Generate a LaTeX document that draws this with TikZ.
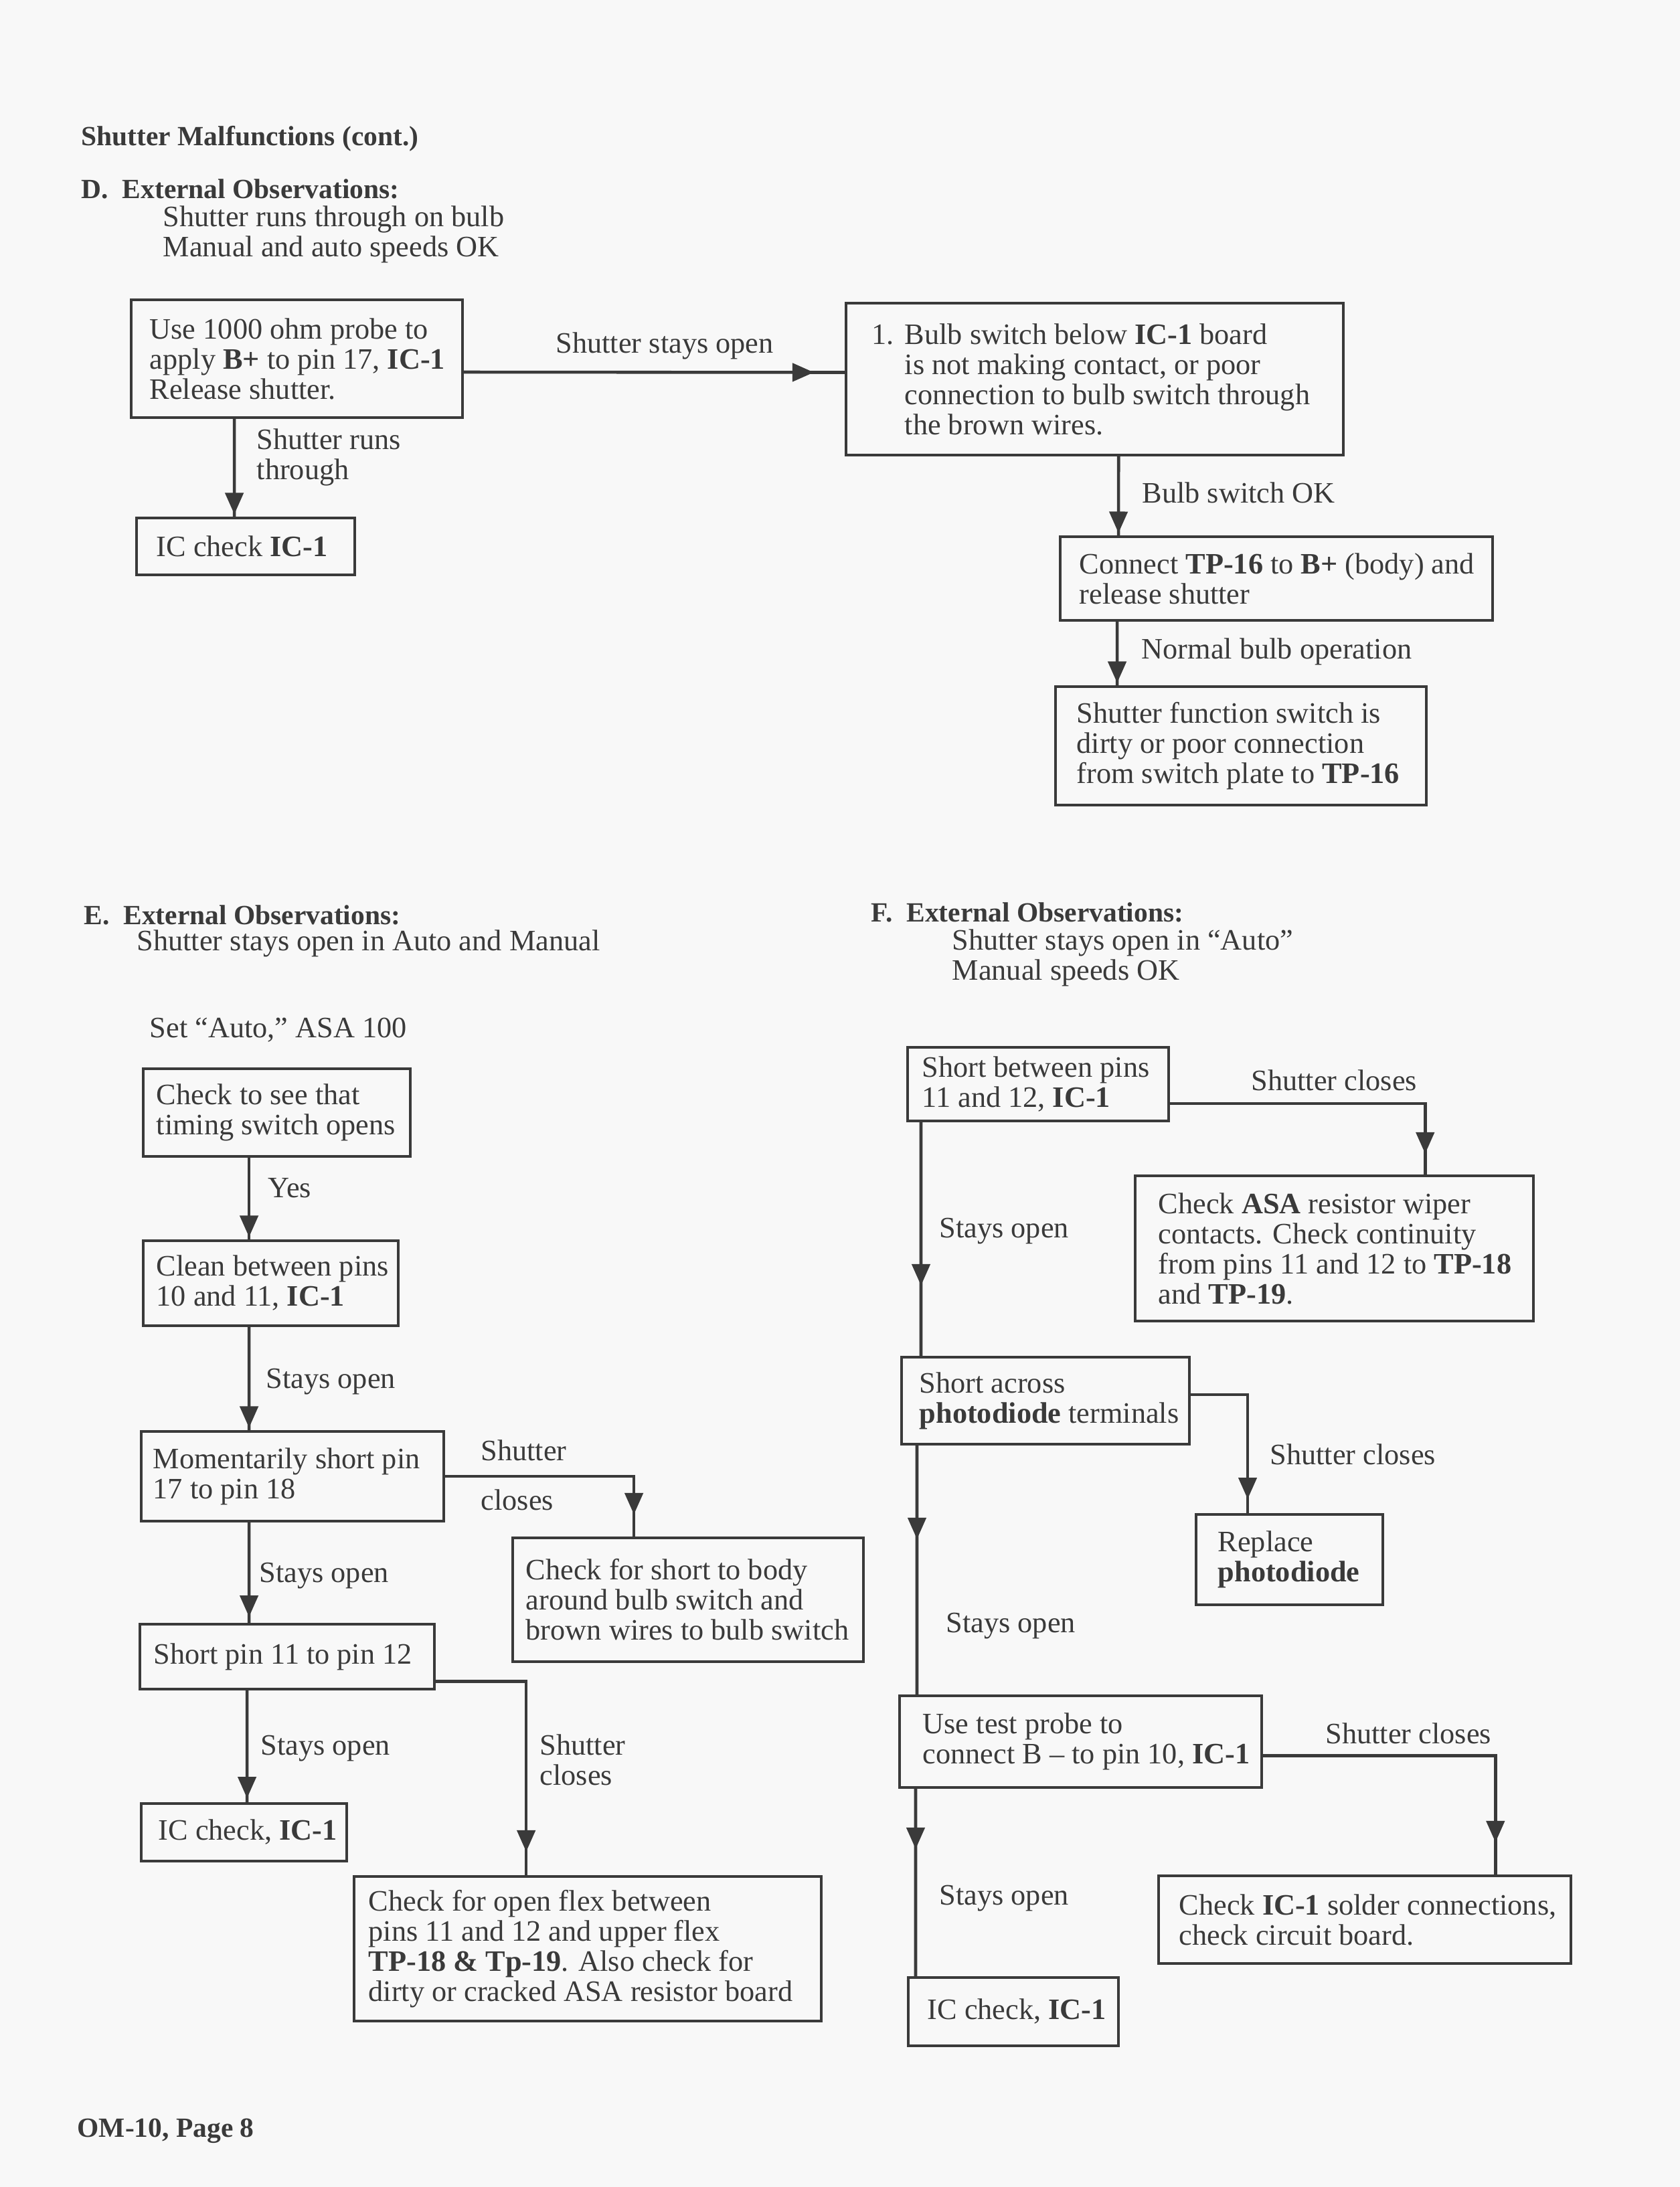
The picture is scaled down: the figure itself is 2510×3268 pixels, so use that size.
\documentclass[tikz,border=0pt]{standalone}
\usepackage{fontspec}
\setmainfont{Liberation Serif}
\usetikzlibrary{arrows.meta,decorations.markings}
\definecolor{ink}{RGB}{58,58,58}
\definecolor{paper}{RGB}{248,248,248}
\tikzset{
  box/.style={draw=ink,line width=1.1pt,anchor=north west,inner sep=0pt},
  boxtext/.style={anchor=west,align=left,inner sep=0pt,xshift=#1},
  lbl/.style={anchor=west,align=left,inner sep=0pt},
  head/.style={lbl,font=\fontsize{11.8}{14}\selectfont\bfseries},
  flow/.style={ink,line width=1.3pt,postaction={decorate},
    decoration={markings,mark=at position #1 with {\arrow{Triangle[length=0.32cm,width=0.27cm]}}}},
}
\begin{document}
\begin{tikzpicture}[x=0.01cm,y=-0.01cm,font=\fontsize{12.6}{12.8}\selectfont,text=ink]
\fill[paper] (0,0) rectangle (2510,3268);
\useasboundingbox (0,0) rectangle (2510,3268);
% D: shutter runs through on bulb
\node[head] (title) at (121,207) {Shutter Malfunctions (cont.)};
\node[head] (hdD) at (121,282) {D.\ \ External Observations:};
\node[lbl] (obsD) at (243,350) {Shutter runs through on bulb\\Manual and auto speeds OK};
\node[box,minimum width=4.95cm,minimum height=1.76cm,label={[boxtext=0.29cm]west:{Use 1000 ohm probe to\\apply \textbf{B+} to pin 17, \textbf{IC-1}\\Release shutter.}}] (d1) at (194,446) {};
\node[box,minimum width=3.26cm,minimum height=0.85cm,label={[boxtext=0.31cm]west:{IC check \textbf{IC-1}}}] (dic) at (202,772) {};
\node[box,minimum width=7.43cm,minimum height=2.27cm,label={[boxtext=0.40cm]west:{\makebox[0.49cm][l]{1.}Bulb switch below \textbf{IC-1} board\\\hspace*{0.49cm}is not making contact, or poor\\\hspace*{0.49cm}connection to bulb switch through\\\hspace*{0.49cm}the brown wires.}}] (d2) at (1262,451) {};
\node[box,minimum width=6.46cm,minimum height=1.25cm,label={[boxtext=0.30cm]west:{Connect \textbf{TP-16} to \textbf{B+} (body) and\\release shutter}}] (d3) at (1582,800) {};
\node[box,minimum width=5.54cm,minimum height=1.77cm,label={[boxtext=0.33cm]west:{Shutter function switch is\\dirty or poor connection\\from switch plate to \textbf{TP-16}}}] (d4) at (1575,1024) {};
\node[lbl] (lbStay) at (830,517) {Shutter stays open};
\node[lbl] (lbRuns) at (383,683) {Shutter runs\\through};
\node[lbl] (lbBulb) at (1706,736) {Bulb switch OK};
\node[lbl] (lbNorm) at (1705,974) {Normal bulb operation};
\draw[flow=-0.46cm] ([yshift=-0.2cm]d1.east) -- ([yshift=0.1cm]d2.west);
\draw[flow=-1pt] ([xshift=1.56cm]d1.south west) -- ([xshift=1.48cm]dic.north west);
\draw[flow=-1pt] ([xshift=4.09cm]d2.south west) -- ([xshift=0.89cm]d3.north west);
\draw[flow=-1pt] ([xshift=0.87cm]d3.south west) -- ([xshift=0.94cm]d4.north west);
% E: stays open in auto and manual
\node[head] (hdE) at (125,1367) {E.\ \ External Observations:};
\node[lbl] (obsE) at (204,1410) {Shutter stays open in Auto and Manual};
\node[lbl] (setE) at (223,1539) {Set “Auto,” ASA 100};
\node[box,minimum width=3.99cm,minimum height=1.31cm,label={[boxtext=0.21cm]west:{Check to see that\\timing switch opens}}] (e1) at (212,1595) {};
\node[box,minimum width=3.81cm,minimum height=1.27cm,label={[boxtext=0.21cm]west:{Clean between pins\\10 and 11, \textbf{IC-1}}}] (e2) at (212,1852) {};
\node[box,minimum width=4.52cm,minimum height=1.34cm,label={[boxtext=0.19cm]west:{Momentarily short pin\\17 to pin 18}}] (e3) at (209,2137) {};
\node[box,minimum width=5.24cm,minimum height=1.85cm,label={[boxtext=0.21cm]west:{Check for short to body\\around bulb switch and\\brown wires to bulb switch}}] (e4) at (764,2296) {};
\node[box,minimum width=4.40cm,minimum height=0.97cm,label={[boxtext=0.22cm]west:{Short pin 11 to pin 12}}] (e5) at (207,2425) {};
\node[box,minimum width=3.07cm,minimum height=0.86cm,label={[boxtext=0.27cm]west:{IC check, \textbf{IC-1}}}] (e6) at (209,2693) {};
\node[box,minimum width=6.98cm,minimum height=2.16cm,label={[boxtext=0.23cm]west:{Check for open flex between\\pins 11 and 12 and upper flex\\\textbf{TP-18 \& Tp-19}. Also check for\\dirty or cracked ASA resistor board}}] (e7) at (527,2802) {};
\node[lbl] (lbYes) at (400,1775) {Yes};
\node[lbl] (lbE2) at (397,2065) {Stays open};
\node[lbl] (lbE3) at (718,2204) {Shutter\\[0.29cm]closes};
\node[lbl] (lbE4) at (387,2355) {Stays open};
\node[lbl] (lbE5) at (806,2630) {Shutter\\closes};
\node[lbl] (lbE6) at (389,2613) {Stays open};
\draw[flow=-1pt] ([xshift=1.60cm]e1.south west) -- ([xshift=1.60cm]e2.north west);
\draw[flow=-1pt] ([xshift=1.60cm]e2.south west) -- ([xshift=1.63cm]e3.north west);
\draw[flow=-0.33cm] (e3.east) -| ([xshift=1.83cm]e4.north west);
\draw[flow=-0.09cm] ([xshift=1.63cm]e3.south west) -- ([xshift=1.65cm]e5.north west);
\draw[flow=-0.35cm] ([yshift=-0.37cm]e5.east) -| ([xshift=2.59cm]e7.north west);
\draw[flow=-0.06cm] ([xshift=1.62cm]e5.south west) -- ([xshift=1.60cm]e6.north west);
% F: stays open in auto only
\node[head] (hdF) at (1301,1363) {F.\ \ External Observations:};
\node[lbl] (obsF) at (1422,1431) {Shutter stays open in “Auto”\\Manual speeds OK};
\node[box,minimum width=3.90cm,minimum height=1.10cm,label={[boxtext=0.23cm]west:{Short between pins\\11 and 12, \textbf{IC-1}}}] (f1) at (1354,1563) {};
\node[box,minimum width=5.95cm,minimum height=2.17cm,label={[boxtext=0.36cm]west:{Check \textbf{ASA} resistor wiper\\contacts. Check continuity\\from pins 11 and 12 to \textbf{TP-18}\\and \textbf{TP-19}.}}] (f2) at (1694,1755) {};
\node[box,minimum width=4.30cm,minimum height=1.30cm,label={[boxtext=0.28cm]west:{Short across\\\textbf{photodiode} terminals}}] (f3) at (1345,2026) {};
\node[box,minimum width=2.79cm,minimum height=1.35cm,label={[boxtext=0.34cm]west:{Replace\\\textbf{photodiode}}}] (f4) at (1785,2261) {};
\node[box,minimum width=5.41cm,minimum height=1.37cm,label={[boxtext=0.36cm]west:{Use test probe to\\connect B -- to pin 10, \textbf{IC-1}}}] (f5) at (1342,2532) {};
\node[box,minimum width=6.16cm,minimum height=1.31cm,label={[boxtext=0.32cm]west:{Check \textbf{IC-1} solder connections,\\check circuit board.}}] (f6) at (1729,2801) {};
\node[box,minimum width=3.14cm,minimum height=1.02cm,label={[boxtext=0.30cm]west:{IC check, \textbf{IC-1}}}] (f7) at (1355,2953) {};
\node[lbl] (lbF1) at (1869,1614) {Shutter closes};
\node[lbl] (lbF2) at (1403,1840) {Stays open};
\node[lbl] (lbF3) at (1897,2173) {Shutter closes};
\node[lbl] (lbF4) at (1413,2430) {Stays open};
\node[lbl] (lbF5) at (1980,2590) {Shutter closes};
\node[lbl] (lbF6) at (1403,2837) {Stays open};
\draw[flow=-0.31cm] ([yshift=-0.29cm]f1.east) -| ([xshift=4.35cm]f2.north west);
\draw[flow=-1.05cm] ([xshift=0.22cm]f1.south west) -- ([xshift=0.31cm]f3.north west);
\draw[flow=-0.21cm] ([yshift=0.09cm]f3.east) -| ([xshift=0.79cm]f4.north west);
\draw[flow=-2.32cm] ([xshift=0.25cm]f3.south west) -- ([xshift=0.28cm]f5.north west);
\draw[flow=-0.48cm] ([yshift=-0.21cm]f5.east) -| ([xshift=5.05cm]f6.north west);
\draw[flow=-1.9cm] ([xshift=0.26cm]f5.south west) -- ([xshift=0.13cm]f7.north west);
\node[head] (foot) at (115,3184) {OM-10, Page 8};
\end{tikzpicture}
\end{document}
